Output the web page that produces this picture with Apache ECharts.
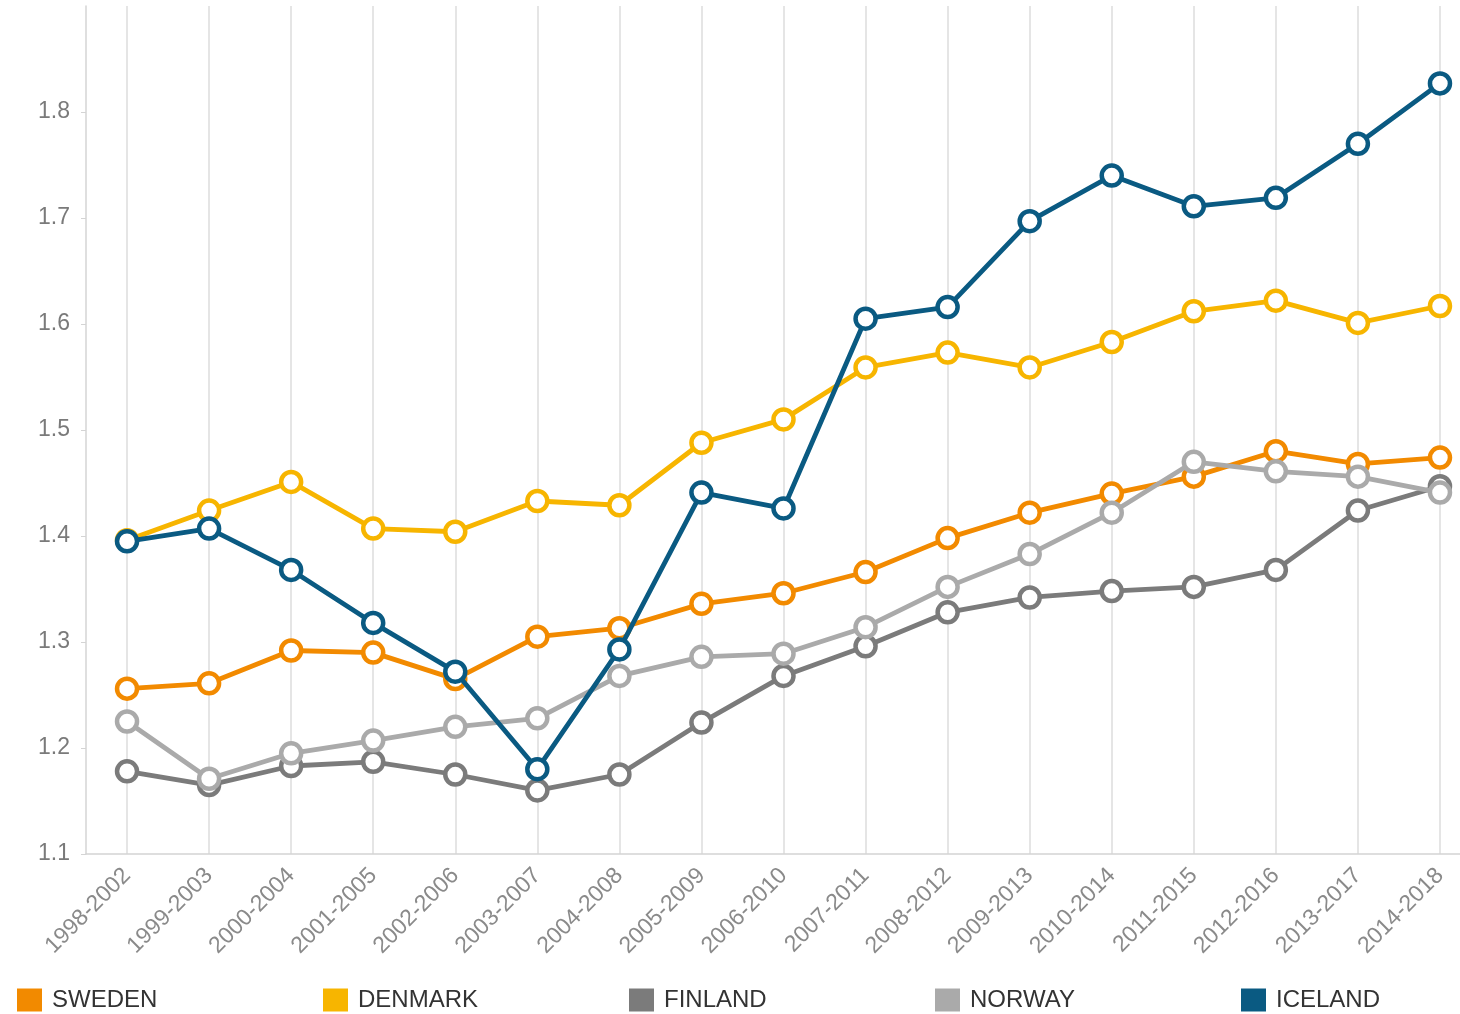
<!DOCTYPE html>
<html>
<head>
<meta charset="utf-8">
<script src="https://cdn.jsdelivr.net/npm/echarts@6/dist/echarts.min.js"></script>
<style>html,body{margin:0;padding:0;background:#fff}#c{width:1460px;height:1014px}</style>
</head>
<body>
<div id="c"></div>
<script>
const categories = ['1998-2002','1999-2003','2000-2004','2001-2005','2002-2006','2003-2007','2004-2008','2005-2009','2006-2010','2007-2011','2008-2012','2009-2013','2010-2014','2011-2015','2012-2016','2013-2017','2014-2018'];
const sweden  = [1.256,1.261,1.292,1.290,1.265,1.305,1.313,1.336,1.346,1.366,1.398,1.422,1.440,1.456,1.480,1.468,1.474];
const denmark = [1.396,1.424,1.451,1.407,1.404,1.433,1.429,1.488,1.510,1.559,1.573,1.559,1.583,1.612,1.622,1.601,1.617];
const finland = [1.178,1.165,1.183,1.187,1.175,1.160,1.175,1.224,1.268,1.296,1.328,1.342,1.348,1.352,1.368,1.424,1.447];
const norway  = [1.225,1.171,1.195,1.207,1.220,1.228,1.268,1.286,1.289,1.314,1.352,1.383,1.422,1.470,1.461,1.456,1.441];
const iceland = [1.395,1.407,1.368,1.318,1.272,1.180,1.293,1.441,1.426,1.605,1.616,1.697,1.740,1.711,1.719,1.770,1.827];
const seriesNames = ['SWEDEN','DENMARK','FINLAND','NORWAY','ICELAND'];
const seriesColors = ['#F28A00','#F7B500','#7B7B7B','#AAAAAA','#0A5A82'];
const seriesData = [sweden, denmark, finland, norway, iceland];

const chart = echarts.init(document.getElementById('c'));
chart.setOption({
  animation: false,
  backgroundColor: '#fff',
  grid: { left: 86, width: 1395, top: 6, bottom: 160, outerBoundsMode: 'none', containLabel: false },
  legend: seriesNames.map((n, i) => ({
    left: 12 + i * 306, top: 983, itemWidth: 25, itemHeight: 23, icon: 'rect', itemGap: 0,
    data: [{ name: n, itemStyle: { color: seriesColors[i], borderWidth: 0 } }],
    textStyle: { fontFamily: 'Liberation Sans, Arial', fontSize: 24, color: '#333', padding: [2,0,0,5] }
  })),
  xAxis: {
    type: 'category', data: categories, boundaryGap: true,
    axisLine: { lineStyle: { color: '#d4d4d4', width: 1.5 } },
    axisTick: { show: false },
    splitLine: { show: true, alignWithLabel: true, lineStyle: { color: '#dcdcdc', width: 1.5 } },
    axisLabel: { rotate: 45, interval: 0, margin: 18, color: '#8a8a8a', fontFamily: 'Liberation Sans, Arial', fontSize: 23 }
  },
  yAxis: {
    type: 'value', min: 1.1, max: 1.9, interval: 0.1,
    axisLine: { show: true, lineStyle: { color: '#d4d4d4', width: 1.5 } },
    axisTick: { show: true, length: 5, lineStyle: { color: '#d4d4d4' } },
    splitLine: { show: false },
    axisLabel: { showMaxLabel: false, margin: 16, color: '#7a7a7a', fontFamily: 'Liberation Sans, Arial', fontSize: 23,
      formatter: v => v.toFixed(1) }
  },
  series: seriesNames.map((n, i) => ({
    name: n, type: 'line', data: seriesData[i],
    symbol: 'circle', symbolSize: 20,
    lineStyle: { color: seriesColors[i], width: 4.8 },
    itemStyle: { color: '#fff', borderColor: seriesColors[i], borderWidth: 4.5 },
    z: 2 + i
  })),
  color: seriesColors
});
</script>
</body>
</html>
